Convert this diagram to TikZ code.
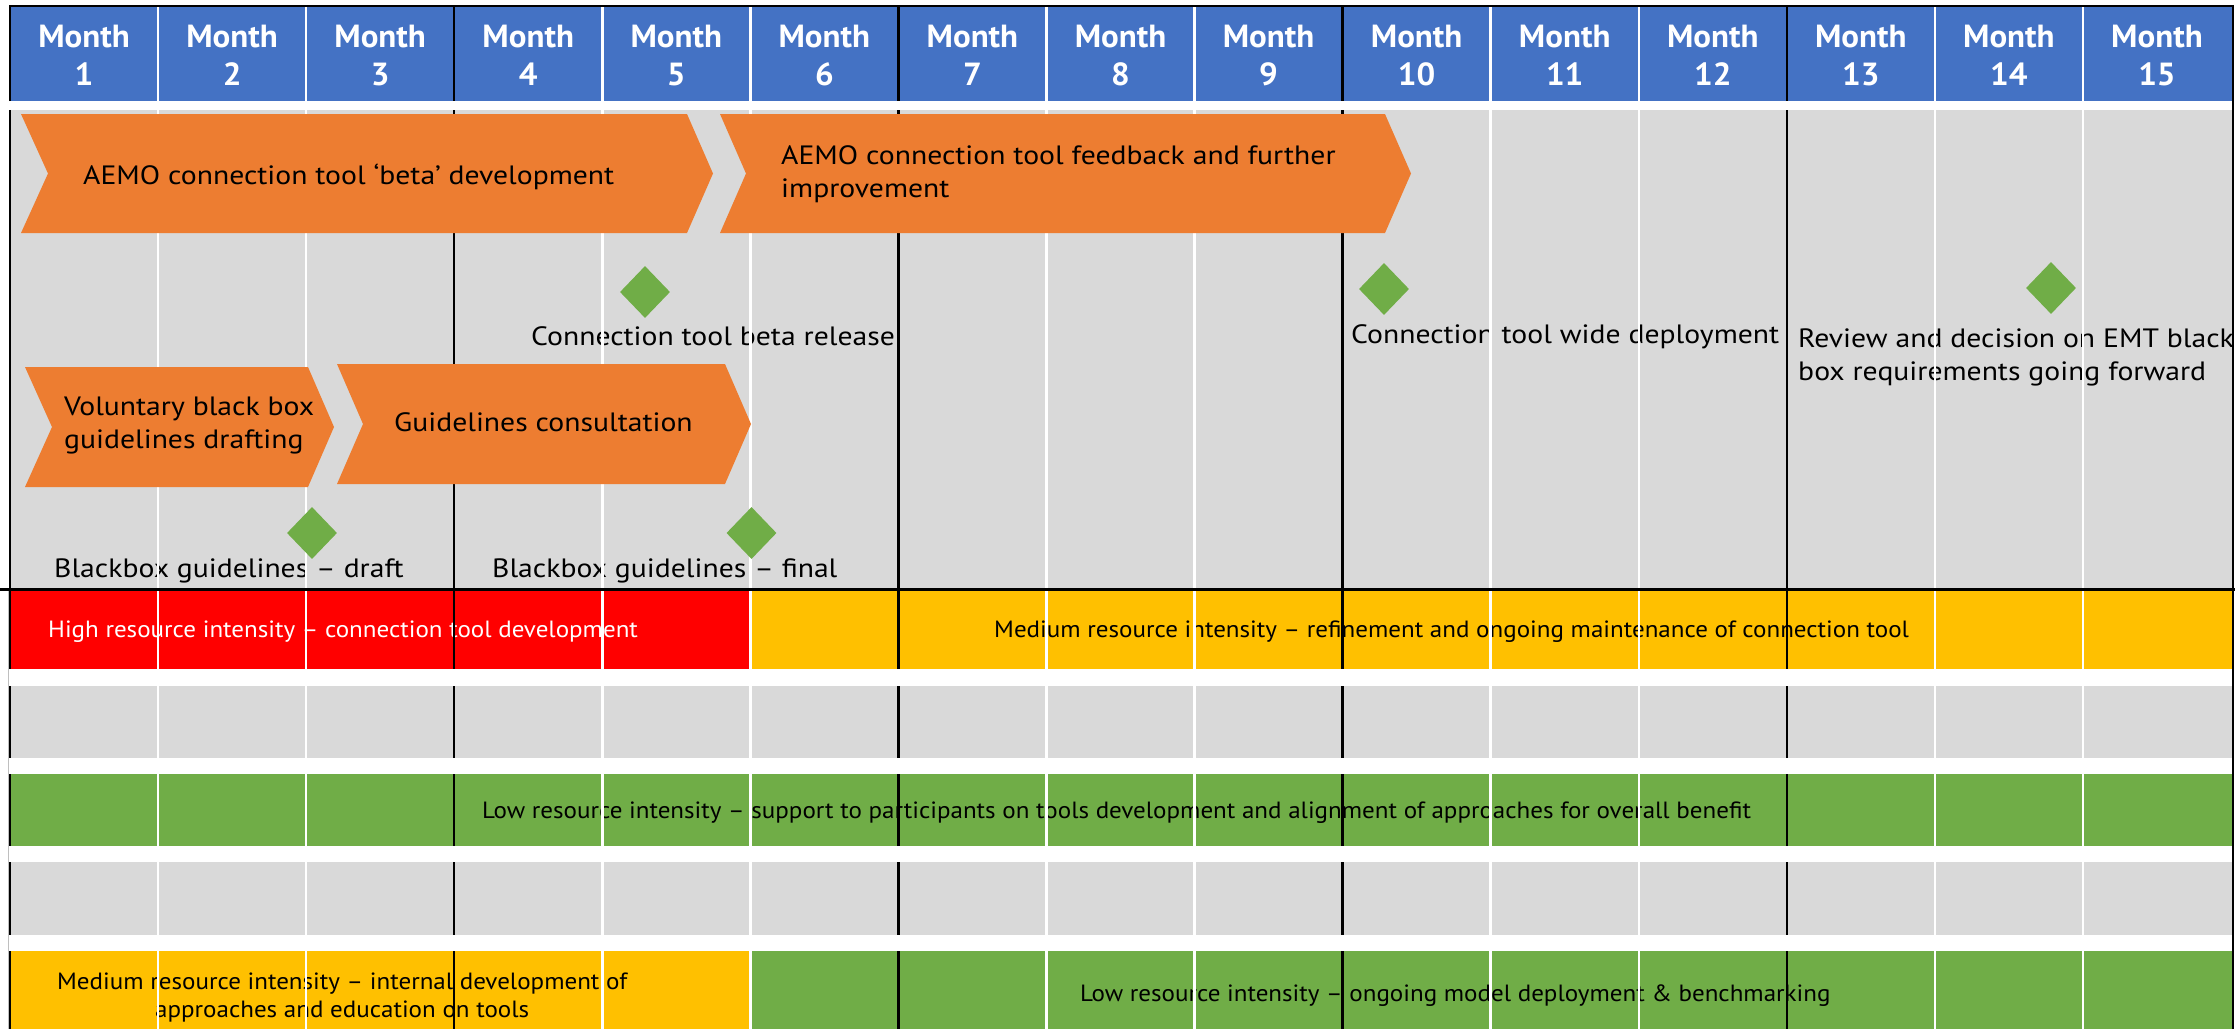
\documentclass[tikz,border=0pt]{standalone}
\usepackage{fontspec}
\setmainfont{PT Sans}
\newfontfamily\lblfont{PT Sans}[FakeStretch=1.12]
\newfontfamily\rowfont{PT Sans}[FakeStretch=1.065]
\newfontfamily\hdrfont{PT Sans}[FakeStretch=1.03]
\usetikzlibrary{shapes.geometric}
\definecolor{hdrblue}{HTML}{4472C4}
\definecolor{orng}{HTML}{ED7D31}
\definecolor{msgreen}{HTML}{70AD47}
\definecolor{ltgray}{HTML}{D9D9D9}
\definecolor{amber}{HTML}{FFC000}
\definecolor{hired}{HTML}{FF0000}
\begin{document}
\begin{tikzpicture}[x=1pt,y=-1pt,
  hdr/.style={text=white,font=\hdrfont\fontsize{32}{38}\selectfont\bfseries,align=center,inner sep=0},
  lbl/.style={font=\lblfont\fontsize{26.5}{33}\selectfont,inner sep=0,anchor=base west,align=left},
  rowtxt/.style={font=\rowfont\fontsize{23.5}{28}\selectfont,inner sep=0,anchor=base west,align=center},
  chev/.style={fill=orng},
  mile/.style={diamond,fill=msgreen,inner sep=0,minimum width=50pt,minimum height=52pt}]

\useasboundingbox[fill=white] (0,0) rectangle (2235,1029);

% backgrounds
\fill[hdrblue] (10,6) rectangle (2233,101);
\fill[ltgray] (10,110) rectangle (2233,588);
\fill[hired] (10,590) rectangle (751,669);
\fill[amber] (751,590) rectangle (2233,669);
\fill[ltgray] (10,686) rectangle (2233,758);
\fill[msgreen] (10,774) rectangle (2233,846);
\fill[ltgray] (10,862) rectangle (2233,935);
\fill[amber] (10,951) rectangle (751,1029);
\fill[msgreen] (751,951) rectangle (2233,1029);

% header
\foreach \k in {1,...,15}{
  \pgfmathsetmacro\cx{10+148.0667*(\k-0.5)}
  \node[hdr] (h\k) at (\cx,55.5) {Month\\\k};
}

% labels in the timeline area
\node[lbl] (l1) at (531,345) {Connection tool beta release};
\node[lbl] (l2) at (54,577) {Blackbox guidelines – draft};
\node[lbl] (l3) at (492,577) {Blackbox guidelines – final};
\node[lbl] (l4) at (1351,343) {Connection tool wide deployment};
\node[lbl] (l5) at (1798,380) {Review and decision on EMT black\\box requirements going forward};

% resource rows text
\node[rowtxt,text=white] (r1) at (48,637) {High resource intensity – connection tool development};
\node[rowtxt] (r2) at (994,637) {Medium resource intensity – refinement and ongoing maintenance of connection tool};
\node[rowtxt] (r3) at (482,818) {Low resource intensity – support to participants on tools development and alignment of approaches for overall benefit};
\node[rowtxt] (r4) at (57,1017) {Medium resource intensity – internal development of\\approaches and education on tools};
\node[rowtxt] (r5) at (1080,1001) {Low resource intensity – ongoing model deployment \& benchmarking};

% grid lines
\foreach \k in {1,...,14}{
  \pgfmathsetmacro\lx{10+148.0667*\k}
  \pgfmathtruncatemacro\isq{mod(\k,3)==0 ? 1 : 0}
  \ifnum\isq=1 \def\lc{black}\else\def\lc{white}\fi
  \foreach \ya/\yb in {7/101,110/588,590/669,686/758,774/846,862/935,951/1029}
    \draw[draw=\lc,line width=2.5pt] (\lx,\ya) -- (\lx,\yb);
}
% borders
\draw[black,line width=2.5pt] (10,101) -- (10,6) -- (2233,6) -- (2233,1029);
\foreach \ya/\yb in {110/588,590/669,686/758,774/846,862/935,951/1029}
  \draw[black,line width=2.5pt] (10,\ya) -- (10,\yb);
\draw[black!25,line width=1pt] (8.5,589) -- (8.5,1029);
\draw[black,line width=3pt] (0,589) -- (2235,589);

% chevrons
\fill[chev] (21,114) -- (687,114) -- (713,173.5) -- (687,233) -- (21,233) -- (48,173.5) -- cycle;
\fill[chev] (720,114) -- (1385,114) -- (1411,173.5) -- (1385,233) -- (720,233) -- (746,173.5) -- cycle;
\fill[chev] (25,367) -- (308,367) -- (334,427) -- (308,487) -- (25,487) -- (52,427) -- cycle;
\fill[chev] (337,364) -- (725,364) -- (751,424) -- (725,484) -- (337,484) -- (363,424) -- cycle;
\node[lbl] (c1) at (83,184) {AEMO connection tool ‘beta’ development};
\node[lbl] (c2) at (781,197) {AEMO connection tool feedback and further\\improvement};
\node[lbl] (c3) at (64,448) {Voluntary black box\\guidelines drafting};
\node[lbl] (c4) at (394,431) {Guidelines consultation};

% milestones
\node[mile] (m1) at (645,292) {};
\node[mile] (m2) at (312,533) {};
\node[mile] (m3) at (751.5,533) {};
\node[mile] (m4) at (1384,289) {};
\node[mile] (m5) at (2051,288) {};
\end{tikzpicture}
\end{document}
